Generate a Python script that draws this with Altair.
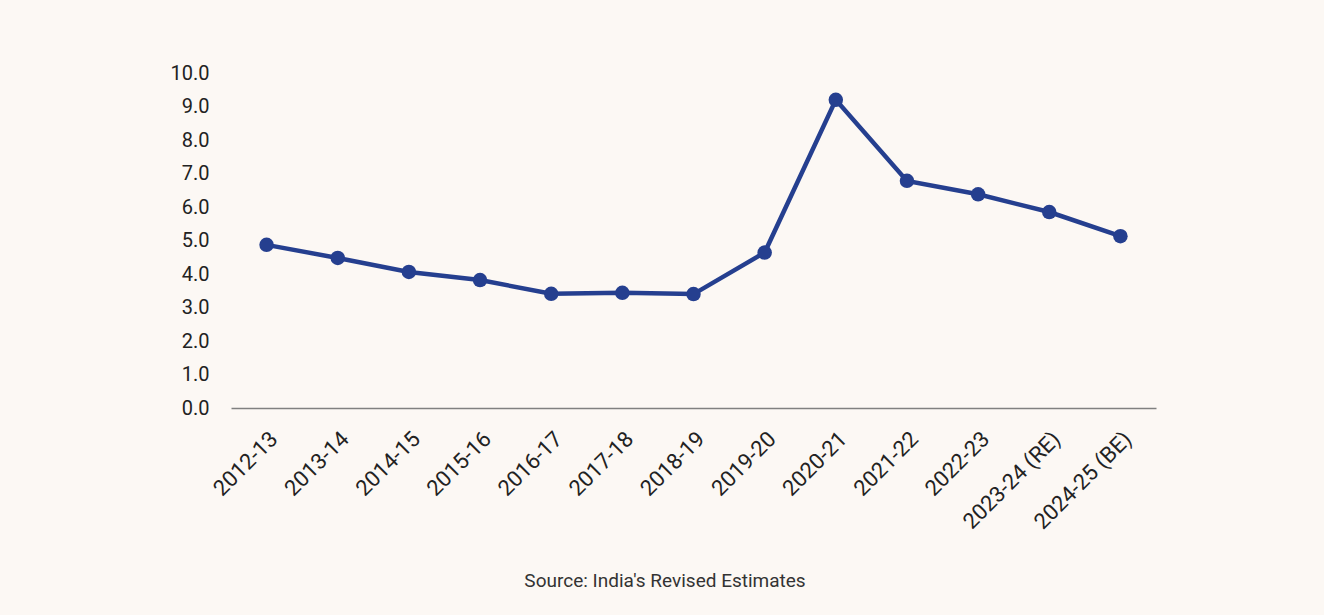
import altair as alt
import pandas as pd

years = ["2012-13", "2013-14", "2014-15", "2015-16", "2016-17", "2017-18", "2018-19",
         "2019-20", "2020-21", "2021-22", "2022-23", "2023-24 (RE)", "2024-25 (BE)"]
values = [4.87, 4.48, 4.06, 3.82, 3.41, 3.44, 3.40, 4.64, 9.2, 6.78, 6.38, 5.85, 5.13]
source_note = ["Source: India's Revised Estimates"]

df = pd.DataFrame({"year": years, "value": values})
FONT = "Roboto"
COLOR = "#253f8f"

x = alt.X("year:N", sort=years, title=None,
          scale=alt.Scale(type="point", padding=0.5),
          axis=alt.Axis(labelAngle=-45, labelFontSize=22, labelFont=FONT, labelColor="#222222",
                        ticks=False, domainColor="#808080", domainWidth=1.5, labelPadding=20,
                        labelAlign="right", labelBaseline="top"))
y = alt.Y("value:Q", title=None,
          scale=alt.Scale(domain=[0, 10]),
          axis=alt.Axis(values=list(range(0, 11)), format=".1f", labelFontSize=20, labelFont=FONT,
                        labelColor="#222222", domain=False, ticks=False, grid=False, labelPadding=22))

line = alt.Chart(df).mark_line(color=COLOR, strokeWidth=4.5).encode(x=x, y=y)
pts = alt.Chart(df).mark_point(color=COLOR, filled=True, opacity=1, size=210).encode(x=x, y=y)
note = alt.Chart(pd.DataFrame({"t": source_note})).mark_text(
    font=FONT, fontSize=19, color="#333333", align="center", baseline="middle"
).encode(text="t:N", x=alt.value(434), y=alt.value(508))

chart = alt.layer(line, pts, note).properties(
    width=925, height=335,
    autosize=alt.AutoSizeParams(type="none"),
    padding={"left": 231, "top": 73, "right": 168, "bottom": 207},
    background="#fcf8f4",
).configure_view(stroke=None)

chart.save("out.html", embed_options={"renderer": "svg", "actions": False})
